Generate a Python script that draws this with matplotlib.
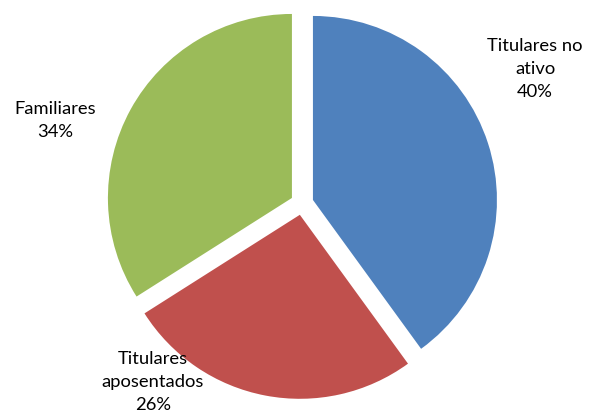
import matplotlib
matplotlib.use("Agg")
import matplotlib.pyplot as plt

categories = ["Titulares no\nativo", "Titulares\naposentados", "Familiares"]
values = [40, 26, 34]
colors = ["#4F81BD", "#C0504D", "#9BBB59"]

W, H = 589, 416
fig = plt.figure(figsize=(W / 100, H / 100), dpi=100)
ax = fig.add_axes([0, 0, 1, 1])

cx, cy = 302, H - 203.5
R = 184
wedges, _ = ax.pie(values, colors=colors, startangle=90, counterclock=False,
                   center=(cx, cy), radius=R, explode=[11.5] * 3,
                   wedgeprops=dict(linewidth=0))
ax.set_xlim(0, W)
ax.set_ylim(0, H)
ax.set_aspect("equal")
ax.axis("off")

label_pos = [(535, H - 69), (153, H - 382), (55, H - 120.5)]
for cat, v, (x, y) in zip(categories, values, label_pos):
    ax.text(x, y, f"{cat}\n{v}%", ha="center", va="center", fontsize=13.2,
            family="Lato", linespacing=1.55, color="#000000")

fig.savefig("out.png", dpi=100)
